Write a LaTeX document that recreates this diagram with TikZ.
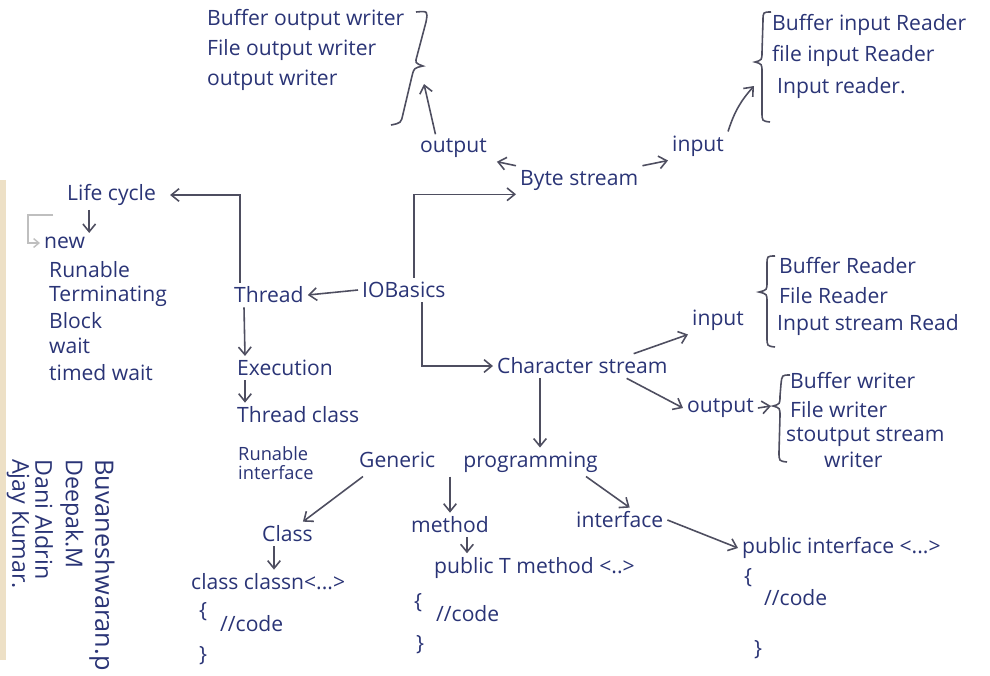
\documentclass[tikz,border=0pt]{standalone}
\usepackage{fontspec}
\setmainfont{Open Sans}
\usetikzlibrary{arrows.meta,calc}
\definecolor{ink}{RGB}{42,52,118}
\definecolor{pen}{RGB}{78,78,96}
\definecolor{paperedge}{RGB}{226,204,160}
\begin{document}
\begin{tikzpicture}[x=0.01cm,y=-0.01cm,
  lbl/.style={anchor=west, inner sep=1pt, text=ink, font=\fontsize{6}{7}\selectfont},
  smalltxt/.style={lbl, align=left, font=\fontsize{5.2}{5.6}\selectfont},
  arr/.style={draw=pen, line width=0.45pt, -{Straight Barb[length=2.2pt,width=3.6pt]}},
  faint/.style={draw=black!25, line width=0.4pt},
  br/.style={draw=pen, line width=0.45pt},
  author/.style={lbl, rotate=-90, font=\fontsize{6.6}{7}\selectfont}
]
\useasboundingbox[fill=white] (0,0) rectangle (990,675);
% paper edge
\fill[paperedge, opacity=0.6] (0,180) rectangle (6,660);

% ---------- byte stream: output writers ----------
\node[lbl] (bow) at (203,20) {Buffer output writer};
\node[lbl] (fow) at (203,50) {File output writer};
\node[lbl] (ow)  at (203,80) {output writer};
% closing brace
\draw[br] (416,12) .. controls (428,11) .. (426,22) -- (417,56)
  .. controls (415,63) .. (423,66) .. controls (414,68) .. (412,76)
  -- (403,114) .. controls (401,123) .. (391,125);
\coordinate (owtip) at (424,84);
\node[lbl] (bout) at (416,148) {output};
\draw[arr] ($(bout.north)+(-18,0)$) -- (owtip);

% ---------- byte stream: input readers ----------
\node[lbl] (bir) at (768,25) {Buffer input Reader};
\node[lbl] (fir) at (768,56) {file input Reader};
\node[lbl] (ir)  at (773,88) {Input reader.};
\draw[br] (771,12) .. controls (763,12) .. (763,21) -- (762,52)
  .. controls (762,60) .. (755,62) .. controls (762,64) .. (762,72)
  -- (762,112) .. controls (762,121) .. (770,122);
\node[lbl] (bin) at (668,146) {input};
\coordinate (irtip) at (754,86);
\draw[arr] (bin.north east) to[bend left=12] (irtip);

\node[lbl] (byte) at (516,180) {Byte stream};
\draw[arr] (byte.north west) -- ($(bout.south east)+(6,0)$);
\draw[arr] (byte.north east) -- (bin.south west);

% ---------- centre ----------
\node[lbl] (io)  at (358,290) {IOBasics};
\node[lbl] (thr) at (230,295) {Thread};
\draw[arr] (io.west) -- (thr.east);
\draw[arr] ($(io.north)+(10,0)$) |- (byte.south west);

% ---------- thread ----------
\node[lbl] (lc) at (63,195) {Life cycle};
\draw[arr] ($(thr.north west)+(10,0)$) |- ($(lc.east)+(10,0)$);
\node[lbl] (new)  at (40,243) {new};
\node[lbl] (run)  at (45,270) {Runable};
\node[lbl] (term) at (45,296) {Terminating};
\node[lbl] (blk)  at (45,321) {Block};
\node[lbl] (wt)   at (45,346) {wait};
\node[lbl] (tw)   at (45,373) {timed wait};
\draw[arr] (lc.south west -| new.north east) -- (new.north east);
\draw[faint, -{Straight Barb[length=1.5pt,width=2.5pt]}] ($(lc.south west)+(-10,5)$) -| ($(new.west)+(-12,0)$) -- (new.west);

\node[lbl] (exe) at (233,368) {Execution};
\draw[arr] ($(thr.south west)+(14,0)$) -- ($(exe.north west)+(12,0)$);
\node[lbl] (tc) at (233,415) {Thread class};
\draw[arr] ($(exe.south west)+(12,0)$) -- ($(tc.north west)+(12,0)$);
\node[smalltxt] (ri) at (234,463) {Runable\\interface};

% ---------- character stream ----------
\node[lbl] (cs) at (493,366) {Character stream};
\draw[arr] ($(io.south)+(18,0)$) |- (cs.west);

\node[lbl] (cin) at (688,320) {input};
\draw[arr] ($(cs.north east)+(-38,0)$) -- (cin.south west);
\draw[br] (775,256) .. controls (767,256) .. (767,265) -- (767,282)
  .. controls (767,290) .. (759,292) .. controls (767,294) .. (767,302)
  -- (767,337) .. controls (767,346) .. (775,347);
\node[lbl] (brd) at (775,266) {Buffer Reader};
\node[lbl] (frd) at (775,296) {File Reader};
\node[lbl] (isr) at (773,325) {Input stream Read};

\node[lbl] (cout) at (683,408) {output};
\draw[arr] ($(cs.south east)+(-45,0)$) -- (cout.west);
\draw[br] (790,375) .. controls (782,375) .. (781,384) -- (780,396)
  .. controls (780,404) .. (773,406) .. controls (780,408) .. (780,416)
  -- (779,452) .. controls (779,461) .. (787,462);
\coordinate (cotip) at (771,406);
\draw[arr] (cout.east) -- (cotip);
\node[lbl] (bw)  at (786,381) {Buffer writer};
\node[lbl] (fw)  at (786,410) {File writer};
\node[lbl] (sos) at (782,437) {stoutput stream};
\node[lbl] (wr)  at (820,460) {writer};

% ---------- generic programming ----------
\node[lbl] (gp) at (355,462) {Generic\hspace{8pt}programming};
\draw[arr] ($(cs.south west)+(47,0)$) coordinate (csd) -- (csd |- gp.north);

\node[lbl] (cls) at (258,534) {Class};
\draw[arr] ($(gp.south west)+(8,0)$) -- ($(cls.north east)+(-14,0)$);
\node[lbl] (ccn) at (187,582) {class classn<...>};
\draw[arr] ($(cls.south west)+(16,0)$) coordinate (cld) -- (cld |- ccn.north);
\node[lbl] (cb1) at (195,612) {\{};
\node[lbl] (cc1) at (216,624) {//code};
\node[lbl] (ce1) at (195,656) {\}};

\node[lbl] (mth) at (407,525) {method};
\draw[arr] ($(gp.south west)+(95,0)$) coordinate (gpd) -- (gpd |- mth.north);
\node[lbl] (ptm) at (430,568) {public T method <..>};
\draw[arr] ($(mth.south west)+(60,0)$) coordinate (md) -- (md |- ptm.north);
\node[lbl] (mb1) at (410,603) {\{};
\node[lbl] (mc1) at (432,614) {//code};
\node[lbl] (me1) at (412,645) {\}};

\node[lbl] (itf) at (572,520) {interface};
\draw[arr] ($(gp.south east)+(-16,0)$) -- ($(itf.north)+(10,0)$);
\node[lbl] (pif) at (738,548) {public interface <...>};
\draw[arr] (itf.east) -- (pif.west);
\node[lbl] (pb1) at (740,578) {\{};
\node[lbl] (pc1) at (760,598) {//code};
\node[lbl] (pe1) at (750,650) {\}};

% ---------- authors ----------
\node[author, font=\fontsize{7.2}{8}\selectfont] (n1) at (102,455) {Buvaneshwaran.p};
\node[author] (n2) at (72,455) {Deepak.M};
\node[author] (n3) at (44,455) {Dani Aldrin};
\node[author] (n4) at (18,455) {Ajay Kumar.};
\end{tikzpicture}
\end{document}
